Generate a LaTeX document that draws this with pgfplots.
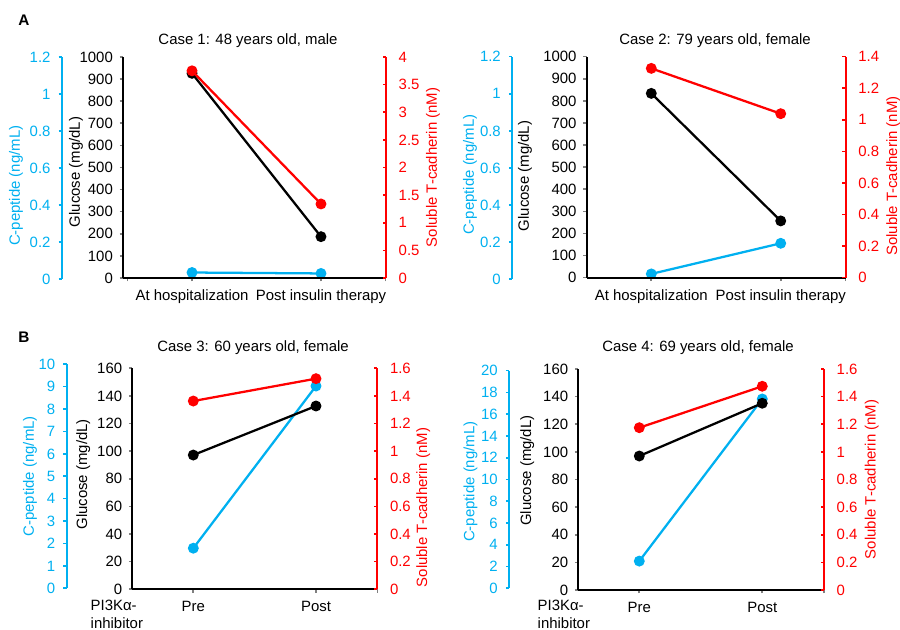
\documentclass[border=0pt]{standalone}
\usepackage{fontspec}
\setmainfont{Liberation Sans}
\usepackage{pgfplots}
\pgfplotsset{compat=1.18}
\definecolor{cpep}{RGB}{0,176,240}
\definecolor{sred}{RGB}{255,0,0}
\pgfplotsset{
  base/.style={scale only axis, font=\fontsize{11.2}{13.5}\selectfont,
    /pgf/number format/assume math mode=true,
    /pgf/number format/1000 sep={},
    major tick style={line width=1.2pt},
    major tick length=2.6pt,
    clip=false, anchor=south west,
    every axis plot/.append style={line width=1.7pt, mark=*, mark size=3.2pt, mark options={solid}},
  },
  noarrows/.style={every outer x axis line/.append style={-, line width=1.6pt},
    every outer y axis line/.append style={-, line width=1.6pt}},
  lab/.style 2 args={ylabel style={at={(axis description cs:#1,#2)}, anchor=center}},
  cyanax/.style={base, axis y line=left, hide x axis, tick align=outside,
    axis line style={cpep}, noarrows, ytick style={cpep}, yticklabel style={cpep,xshift=-2.5pt},
    ylabel style={cpep}, ylabel={C-peptide (ng/mL)}, ymin=0},
  glucax/.style={base, axis x line=bottom, axis y line=left, tick align=outside,
    axis line style={black}, noarrows, yticklabel style={xshift=-1.5pt},
    ylabel={Glucose (mg/dL)}, ymin=0, xtick={-0.5,0,1,1.5},
    xticklabel style={yshift=-3pt}},
  redax/.style={base, axis y line=right, hide x axis, tick align=inside,
    axis line style={sred}, noarrows, ytick style={sred}, yticklabel style={sred,xshift=6pt},
    ylabel style={sred}, ylabel={Soluble T-cadherin (nM)}, ymin=0},
}
\newcommand{\pp}[2]{({#1*0.75pt},{-#2*0.75pt})}
\begin{document}
\begin{tikzpicture}
\path[use as bounding box] (0pt,0pt) rectangle (675pt,-472.5pt);
\tikzset{every node/.style={font=\fontsize{11.2}{13.5}\selectfont}}
\node[font=\fontsize{11.5}{13}\selectfont\bfseries] at \pp{24}{20} {A};
\node[font=\fontsize{11.5}{13}\selectfont\bfseries] at \pp{24}{337} {B};
\node at \pp{248}{41} {Case 1: 48 years old, male};
\node at \pp{715}{41} {Case 2: 79 years old, female};
\node at \pp{253}{348} {Case 3: 60 years old, female};
\node at \pp{698}{348} {Case 4: 69 years old, female};
\node[anchor=west, align=left] at \pp{86}{614.5} {PI3Kα-\\inhibitor};
\node[anchor=west, align=left] at \pp{533}{614.5} {PI3Kα-\\inhibitor};

% ---------- Case 1 ----------
\begin{axis}[cyanax, lab={-0.142}{0.42}, at={(46.5pt,-209.25pt)}, width=243pt, height=166.5pt,
  xmin=-1.008, xmax=1.504, ymax=1.2, ytick={0,0.2,0.4,0.6,0.8,1,1.2}]
\addplot[cpep] coordinates {(0,0.035) (1,0.03)};
\end{axis}
\begin{axis}[glucax, lab={-0.179}{0.48}, at={(92.25pt,-208.5pt)}, width=197.25pt, height=165.75pt,
  xmin=-0.535, xmax=1.504, ymax=1000, ytick={0,100,...,1000},
  xticklabels={,At hospitalization,Post insulin therapy,}]
\addplot[black] coordinates {(0,926) (1,187)};
\end{axis}
\begin{axis}[redax, lab={1.179}{0.5}, at={(92.25pt,-208.5pt)}, width=197.25pt, height=165.75pt,
  xmin=-0.535, xmax=1.504, ymax=4, ytick={0,0.5,1,1.5,2,2.5,3,3.5,4}]
\addplot[sred] coordinates {(0,3.75) (1,1.34)};
\end{axis}

% ---------- Case 2 ----------
\begin{axis}[cyanax, lab={-0.127}{0.47}, at={(384.225pt,-209.475pt)}, width=250.05pt, height=166.95pt,
  xmin=-1.074, xmax=1.502, ymax=1.2, ytick={0,0.2,0.4,0.6,0.8,1,1.2}]
\addplot[cpep] coordinates {(0,0.029) (1,0.194)};
\end{axis}
\begin{axis}[glucax, lab={-0.238}{0.46}, at={(440.025pt,-208.275pt)}, width=194.25pt, height=165.75pt,
  xmin=-0.499, xmax=1.502, ymax=1000, ytick={0,100,...,1000},
  xticklabels={,At hospitalization,Post insulin therapy,}]
\addplot[black] coordinates {(0,834) (1,257)};
\end{axis}
\begin{axis}[redax, lab={1.184}{0.46}, at={(440.025pt,-208.275pt)}, width=194.25pt, height=165.75pt,
  xmin=-0.499, xmax=1.502, ymax=1.4, ytick={0,0.2,0.4,0.6,0.8,1,1.2,1.4}]
\addplot[sred] coordinates {(0,1.326) (1,1.039)};
\end{axis}

% ---------- Case 3 ----------
\begin{axis}[cyanax, lab={-0.118}{0.5}, at={(50.025pt,-441.225pt)}, width=232.95pt, height=168pt,
  xmin=-1.032, xmax=1.4996, ymax=10, ytick={0,1,...,10}]
\addplot[cpep] coordinates {(0,1.79) (1,9.03)};
\end{axis}
\begin{axis}[glucax, lab={-0.2}{0.52}, at={(99.225pt,-441.975pt)}, width=183.75pt, height=165.75pt,
  xmin=-0.497, xmax=1.4996, ymax=160, ytick={0,20,...,160},
  xticklabels={,Pre,Post,}]
\addplot[black] coordinates {(0,97.2) (1,132.7)};
\end{axis}
\begin{axis}[redax, lab={1.188}{0.37}, at={(99.225pt,-441.975pt)}, width=183.75pt, height=165.75pt,
  xmin=-0.497, xmax=1.4996, ymax=1.6, ytick={0,0.2,0.4,0.6,0.8,1,1.2,1.4,1.6}]
\addplot[sred] coordinates {(0,1.363) (1,1.525)};
\end{axis}

% ---------- Case 4 ----------
\begin{axis}[cyanax, lab={-0.123}{0.49}, at={(381.975pt,-441.225pt)}, width=236.025pt, height=163.2pt,
  xmin=-1.057, xmax=1.502, ymax=20, ytick={0,2,...,20}]
\addplot[cpep] coordinates {(0,2.5) (1,17.4)};
\end{axis}
\begin{axis}[glucax, lab={-0.208}{0.54}, at={(433.725pt,-442.5pt)}, width=184.275pt, height=165.75pt,
  xmin=-0.496, xmax=1.502, ymax=160, ytick={0,20,...,160},
  xticklabels={,Pre,Post,}]
\addplot[black] coordinates {(0,97) (1,135.2)};
\end{axis}
\begin{axis}[redax, lab={1.194}{0.5}, at={(433.725pt,-442.5pt)}, width=184.275pt, height=165.75pt,
  xmin=-0.496, xmax=1.502, ymax=1.6, ytick={0,0.2,0.4,0.6,0.8,1,1.2,1.4,1.6}]
\addplot[sred] coordinates {(0,1.175) (1,1.475)};
\end{axis}
\end{tikzpicture}
\end{document}
